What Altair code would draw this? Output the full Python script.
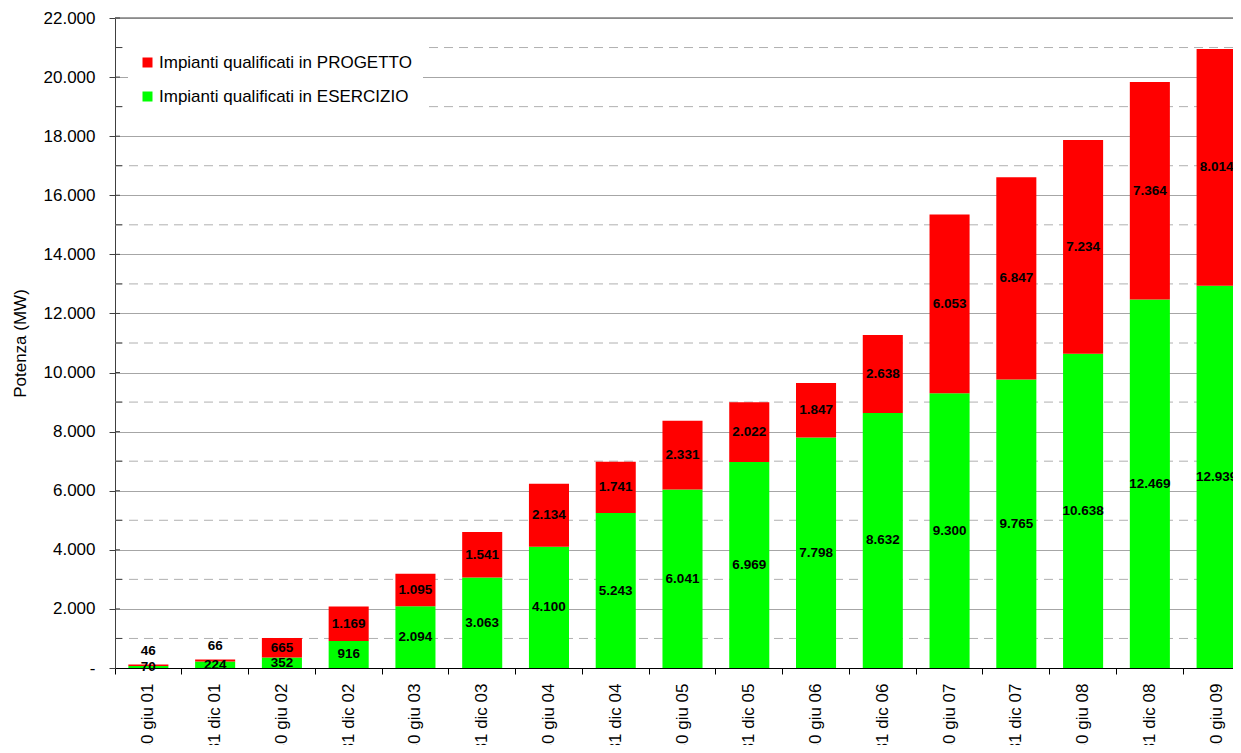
import altair as alt
import pandas as pd

dates = ["30 giu 01", "31 dic 01", "30 giu 02", "31 dic 02", "30 giu 03", "31 dic 03",
         "30 giu 04", "31 dic 04", "30 giu 05", "31 dic 05", "30 giu 06", "31 dic 06",
         "30 giu 07", "31 dic 07", "30 giu 08", "31 dic 08", "30 giu 09"]
esercizio = [70, 224, 352, 916, 2094, 3063, 4100, 5243, 6041, 6969, 7798, 8632,
             9300, 9765, 10638, 12469, 12939]
progetto = [46, 66, 665, 1169, 1095, 1541, 2134, 1741, 2331, 2022, 1847, 2638,
            6053, 6847, 7234, 7364, 8014]
series_names = ["Impianti qualificati in PROGETTO", "Impianti qualificati in ESERCIZIO"]
series_colors = ["#FF0000", "#00FF00"]
y_major = list(range(0, 22001, 2000))
y_minor = list(range(1000, 22000, 2000))

FONT = "Liberation Sans"

rows = []
for d, e, p in zip(dates, esercizio, progetto):
    rows.append(dict(date=d, serie=series_names[1], bottom=0, top=e, value=e))
    rows.append(dict(date=d, serie=series_names[0], bottom=e, top=e + p, value=p))
df = pd.DataFrame(rows)
df["label"] = df["value"].map(lambda v: f"{v:,}".replace(",", "."))
# small red segments: label pushed above the bar (as in the original spreadsheet)
df["ly"] = [
    (r.top + 460) if (r.serie == series_names[0] and r.value < 150) else (r.bottom + r.top) / 2
    for r in df.itertuples()
]

PLOT_W = 1118      # visible plot width (page is cut on the right, as in the original)
BAND_RANGE = 1135  # full category range, last column partly beyond the page edge
PLOT_H = 650

yscale = alt.Scale(domain=[0, 22000], nice=False, zero=True)
xscale = alt.Scale(paddingInner=0, paddingOuter=0, range=[0, BAND_RANGE])

yaxis = alt.Axis(title="Potenza (MW)", values=y_major,
                 labelExpr="datum.value == 0 ? '-' : replace(format(datum.value, ','), ',', '.')",
                 grid=True, gridColor="#a6a6a6", gridWidth=1,
                 tickSize=6, tickColor="#404040", domainColor="#404040",
                 labelPadding=14, labelFont=FONT, labelFontSize=17, labelColor="#000000",
                 titleFont=FONT, titleFontSize=17, titleFontWeight="normal",
                 titleColor="#000000", titlePadding=14)

xaxis = alt.Axis(title=None, labelAngle=-90, bandPosition=0, tickSize=6,
                 tickColor="#000000", domainColor="#000000", labelColor="#000000",
                 labelFont=FONT, labelFontSize=17, labelPadding=9, grid=False)

minor_df = pd.DataFrame({"v": y_minor})
major_df = pd.DataFrame({"v": y_major[1:]})
top_df = pd.DataFrame({"v": y_major[-1:]})

minor_grid = alt.Chart(minor_df).mark_rule(color="#b0b0b0", strokeDash=[9, 6], strokeWidth=1).encode(
    y=alt.Y("v:Q", scale=yscale, axis=yaxis)
)
top_border = alt.Chart(top_df).mark_rule(color="#808080", strokeWidth=1.5).encode(
    y=alt.Y("v:Q", scale=yscale, axis=yaxis)
)

minor_ticks = alt.Chart(minor_df).mark_rule(color="#404040").encode(
    y=alt.Y("v:Q", scale=yscale, axis=yaxis), x=alt.value(0), x2=alt.value(7)
)
major_ticks = alt.Chart(major_df).mark_rule(color="#404040").encode(
    y=alt.Y("v:Q", scale=yscale, axis=yaxis), x=alt.value(0), x2=alt.value(5)
)

bars = alt.Chart(df).mark_bar(width=alt.RelativeBandSize(0.6)).encode(
    x=alt.X("date:N", sort=dates, scale=xscale, axis=xaxis),
    y=alt.Y("bottom:Q", scale=yscale, axis=yaxis),
    y2="top:Q",
    color=alt.Color("serie:N",
                    scale=alt.Scale(domain=series_names, range=series_colors),
                    legend=alt.Legend(title=None, orient="none", legendX=13, legendY=25,
                                      fillColor="white", padding=11, symbolType="square",
                                      symbolSize=100, symbolStrokeWidth=0,
                                      labelFont=FONT, labelFontSize=17, labelColor="#000000",
                                      labelLimit=500, rowPadding=16, labelOffset=3)),
)

labels = alt.Chart(df).mark_text(font=FONT, fontSize=13.5, fontWeight="bold",
                                 color="#000000", baseline="middle").encode(
    x=alt.X("date:N", sort=dates, scale=xscale, axis=xaxis),
    y=alt.Y("ly:Q", scale=yscale, axis=yaxis),
    text="label:N",
)

chart = alt.layer(minor_grid, top_border, bars, minor_ticks, major_ticks, labels).properties(
    width=PLOT_W, height=PLOT_H,
    autosize=alt.AutoSizeParams(type="none"),
    padding={"left": 107, "top": 10, "right": 0, "bottom": 77},
).configure_view(stroke=None).configure(background="white")

chart.save("out.html", embed_options={"renderer": "svg", "actions": False})
